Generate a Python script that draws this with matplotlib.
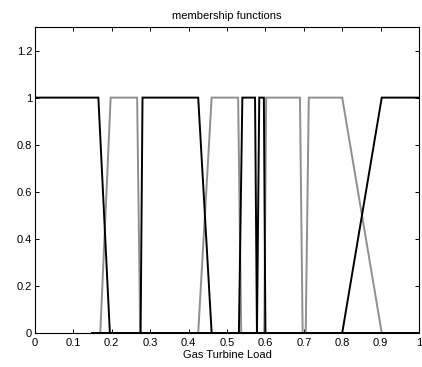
import matplotlib
matplotlib.use("Agg")
import matplotlib.pyplot as plt

# membership function trapezoids: (domain_start, foot_left, shoulder_left, shoulder_right, foot_right, domain_end)
mf_black = [
    (0.0, -0.1, -0.05, 0.165, 0.195, 1.0),
    (0.15, 0.275, 0.28, 0.425, 0.46, 1.0),
    (0.15, 0.531, 0.54, 0.573, 0.578, 1.0),
    (0.15, 0.578, 0.584, 0.596, 0.600, 1.0),
    (0.15, 0.80, 0.903, 1.1, 1.2, 1.0),
]
mf_gray = [
    (0.15, 0.17, 0.197, 0.266, 0.274, 1.0),
    (0.15, 0.425, 0.46, 0.529, 0.537, 1.0),
    (0.15, 0.597, 0.602, 0.69, 0.697, 1.0),
    (0.15, 0.705, 0.713, 0.80, 0.903, 1.0),
]
xticks = [0, 0.1, 0.2, 0.3, 0.4, 0.5, 0.6, 0.7, 0.8, 0.9, 1]
xticklabels = ['0', '0.1', '0.2', '0.3', '0.4', '0.5', '0.6', '0.7', '0.8', '0.9', '1']
yticks = [0, 0.2, 0.4, 0.6, 0.8, 1.0, 1.2]
yticklabels = ['0', '0.2', '0.4', '0.6', '0.8', '1', '1.2']


def trap_points(p):
    s, a, b, c, d, e = p
    def mu(x):
        if x <= a or x >= d:
            return 0.0
        if x < b:
            return (x - a) / (b - a)
        if x <= c:
            return 1.0
        return (d - x) / (d - c)
    cand = sorted(set([s, e] + [v for v in (a, b, c, d) if s < v < e]))
    return cand, [mu(x) for x in cand]


plt.rcParams['font.family'] = ['Liberation Sans', 'DejaVu Sans']
fig = plt.figure(figsize=(4.22, 3.67), dpi=100)
ax = fig.add_axes([35/422, 34/367, 384/422, 306/367])

for p in mf_gray:
    xs, ys = trap_points(p)
    ax.plot(xs, ys, color='#8f8f8f', lw=1.4, solid_joinstyle='miter')
for p in mf_black:
    xs, ys = trap_points(p)
    ax.plot(xs, ys, color='black', lw=1.4, solid_joinstyle='miter')

ax.set_xlim(0, 1)
ax.set_ylim(0, 1.3)
ax.set_xticks(xticks)
ax.set_xticklabels(xticklabels)
ax.set_yticks(yticks)
ax.set_yticklabels(yticklabels)
ax.tick_params(direction='in', top=True, right=True, labelsize=8, length=3, width=0.7, pad=2)
ax.tick_params(axis='x', pad=3.5)
for sp in ax.spines.values():
    sp.set_linewidth(0.8)
ax.set_title('membership functions', fontsize=8, pad=6)
ax.set_xlabel('Gas Turbine Load', fontsize=8, labelpad=1.5)

fig.savefig('out.png', dpi=100)
